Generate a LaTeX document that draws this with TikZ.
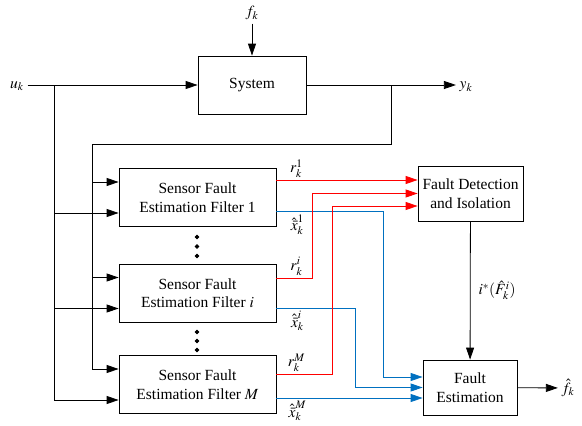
\documentclass[tikz,border=0pt]{standalone}
\usepackage{mathptmx}
\usepackage{fontspec}
\setmainfont{Liberation Serif}
\usetikzlibrary{arrows.meta}
\definecolor{resred}{RGB}{255,0,0}
\definecolor{estblue}{RGB}{0,112,192}
\tikzset{
  block/.style={draw, align=center, inner sep=0pt},
  filt/.style={block, minimum width=157pt, minimum height=58pt},
  sig/.style={inner sep=2pt},
}
\begin{document}
\begin{tikzpicture}[x=1pt, y=-1pt, line width=0.8pt, >={Triangle[length=12pt,width=8pt]},
  font=\fontsize{15.5}{18.5}\selectfont]
        \useasboundingbox (0,0) rectangle (582,426);

        \node[block, minimum width=108pt, minimum height=58pt] (sys) at (252,85) {System};
        \node[filt] (f1) at (197.5,197.5) {Sensor Fault\\Estimation Filter 1};
        \node[filt] (fi) at (197.5,293) {Sensor Fault\\Estimation Filter $i$};
        \node[filt] (fM) at (197.5,384.5) {Sensor Fault\\Estimation Filter $M$};
        \node[block, minimum width=105pt, minimum height=55pt] (fdi) at (470.5,193.5) {Fault Detection\\and Isolation};
        \node[block, minimum width=94pt, minimum height=55pt] (fe) at (470,387.5) {Fault\\Estimation};

        \node (fk) at (252,13) {$f_k$};
        \node (uk) at (17,86) {$u_k$};
        \node (yk) at (466,87) {$y_k$};
        \node (fhat) at (568,388) {$\hat{f}_k$};

        \node[sig, above] (r1) at ([xshift=20pt,yshift=17.5pt]f1.east) {$r_k^1$};
        \node[sig, above] (ri) at ([xshift=20pt,yshift=15pt]fi.east) {$r_k^i$};
        \node[sig, above] (rM) at ([xshift=20pt,yshift=10.5pt]fM.east) {$r_k^M$};
        \node[sig, below] (x1) at ([xshift=21pt,yshift=-14.5pt]f1.east) {$\hat{\bar{x}}_k^1$};
        \node[sig, below] (xi) at ([xshift=21pt,yshift=-16pt]fi.east) {$\hat{\bar{x}}_k^i$};
        \node[sig, below] (xM) at ([xshift=21pt,yshift=-14.5pt]fM.east) {$\hat{\bar{x}}_k^M$};

        \coordinate (ub) at (54,85);
        \coordinate (yb) at (391,85);
        \coordinate (fb) at (92,144);

        \draw[->] (fk) -- (sys);
        \draw[->] (uk.east |- ub) -- (ub -| sys.west);
        \draw[->] (sys) -- (sys -| yk.west);

        \draw[->] (ub) |- ([yshift=-15.5pt]fM.west);
        \draw[->] (yb) |- (fb) |- ([yshift=15.5pt]fM.west);
        \foreach \f in {f1,fi} {
            \draw[->] ([yshift=15.5pt]\f.west -| fb) -- ([yshift=15.5pt]\f.west);
            \draw[->] ([yshift=-15.5pt]\f.west -| ub) -- ([yshift=-15.5pt]\f.west);
        }

        \foreach \y in {237,246.5,256,332,341,350}
            \filldraw[black] (197,\y) circle (1.9);

        \draw[estblue, ->] ([yshift=-15pt]fi.east) -- ++(79,0) |- (fe.west);
        \draw[estblue, ->] ([yshift=-13.5pt]fM.east) -- ([yshift=-13.5pt]fM.east -| fe.west);
        \draw[estblue, ->] ([yshift=-13.5pt]f1.east) -- ++(107,0) |- ([yshift=10.5pt]fe.west);

        \draw[resred, ->] ([yshift=17.5pt]f1.east) -- ([yshift=17.5pt]f1.east -| fdi.west);
        \draw[resred, ->] ([yshift=15pt]fi.east) -- ++(36,0) |- (fdi.west);
        \draw[resred, ->] ([yshift=10.5pt]fM.east) -- ++(56,0) |- ([yshift=-12.5pt]fdi.west);

        \draw[->] (fdi) -- node[sig, right, xshift=6pt] {$i^*(\hat{F}_k^i)$} (fe);
        \draw[->] (fe) -- (fhat);

\end{tikzpicture}
\end{document}
